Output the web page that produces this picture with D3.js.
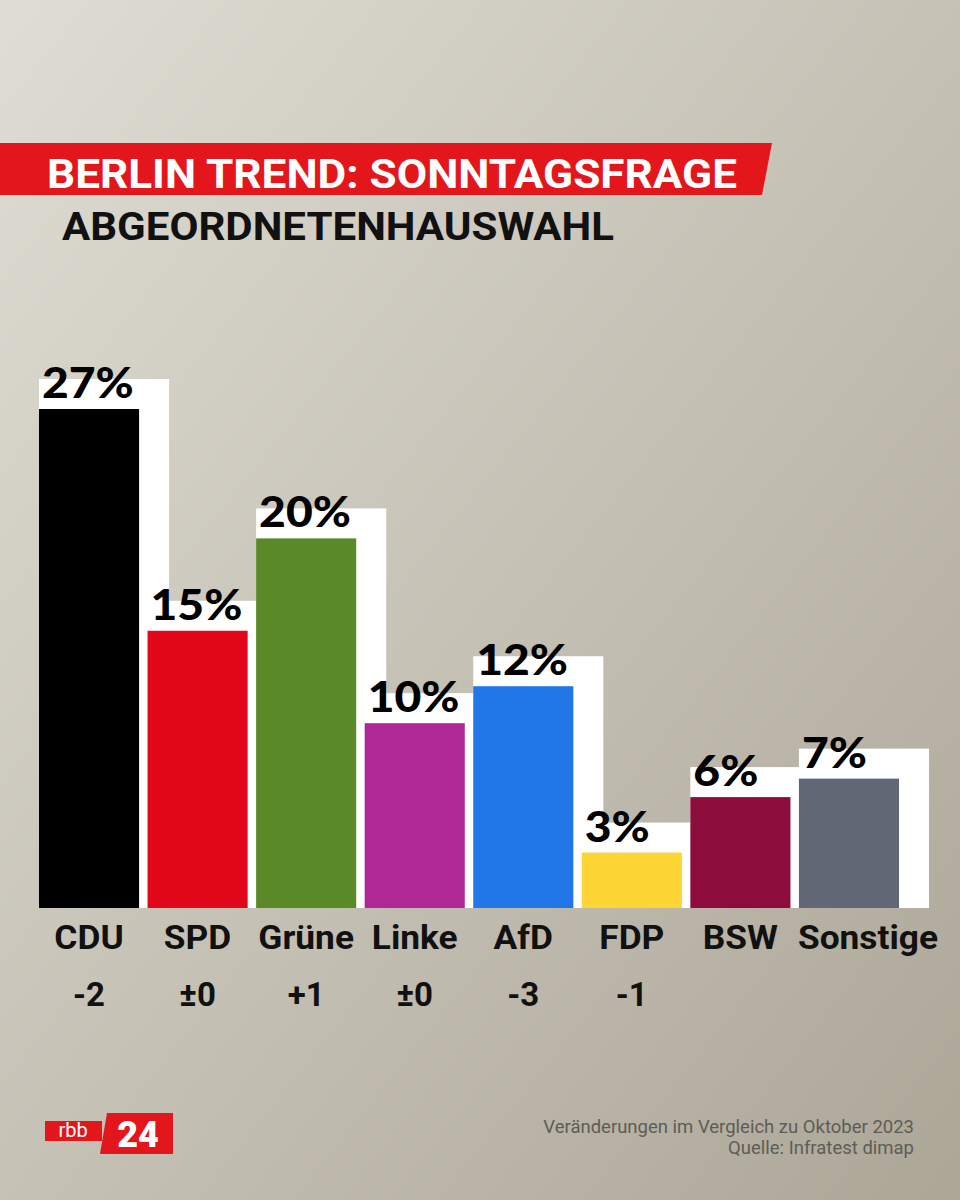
<!DOCTYPE html>
<html>
<head>
<meta charset="utf-8">
<script src="https://cdn.jsdelivr.net/npm/d3@7"></script>
<style>
  html, body { margin: 0; padding: 0; background: #cdc9bd; }
  svg { display: block; }
</style>
</head>
<body>
<script>
// ---- data ----
const categories = ["CDU", "SPD", "Grüne", "Linke", "AfD", "FDP", "BSW", "Sonstige"];
const values = [27, 15, 20, 10, 12, 3, 6, 7];
const changes = ["-2", "±0", "+1", "±0", "-3", "-1", "", ""];
const colors = ["#000000", "#e2081a", "#5a8a28", "#b02896", "#2176e8", "#fdd535", "#8c0d3c", "#616775"];
const title = "BERLIN TREND: SONNTAGSFRAGE";
const subtitle = "ABGEORDNETENHAUSWAHL";
const footLines = ["Veränderungen im Vergleich zu Oktober 2023", "Quelle: Infratest dimap"];

const W = 960, H = 1200;
const svg = d3.select("body").append("svg").attr("width", W).attr("height", H);

// background gradient
const defs = svg.append("defs");
const g = defs.append("linearGradient").attr("id", "bg")
  .attr("x1", "0").attr("y1", "0").attr("x2", "1").attr("y2", "1");
g.append("stop").attr("offset", "0%").attr("stop-color", "#dfddd4");
g.append("stop").attr("offset", "100%").attr("stop-color", "#aca697");
svg.append("rect").attr("width", W).attr("height", H).attr("fill", "url(#bg)");

// title banner
svg.append("polygon")
  .attr("points", "0,143 772,143 762,195 0,195")
  .attr("fill", "#e3161b");
svg.append("text").text(title)
  .attr("x", 47).attr("y", 188)
  .attr("textLength", 690).attr("lengthAdjust", "spacingAndGlyphs")
  .attr("font-family", "Roboto, 'Liberation Sans', sans-serif")
  .attr("font-weight", 700).attr("font-size", 41).attr("fill", "#ffffff");
svg.append("text").text(subtitle)
  .attr("x", 62).attr("y", 240)
  .attr("textLength", 552).attr("lengthAdjust", "spacingAndGlyphs")
  .attr("font-family", "Roboto, 'Liberation Sans', sans-serif")
  .attr("font-weight", 700).attr("font-size", 39).attr("fill", "#111111");

// scales
const x = d3.scaleBand().domain(categories).range([39, 899]).paddingInner(0.078).paddingOuter(0);
const y = d3.scaleLinear().domain([0, 27]).range([908, 409]);
const data = categories.map((c, i) => ({ c, v: values[i], ch: changes[i], col: colors[i] }));
const bw = x.bandwidth();

// stretch helper: widen text horizontally by a factor
function stretch(sel, k) {
  sel.each(function () {
    const len = this.getComputedTextLength();
    if (len > 0) d3.select(this).attr("textLength", len * k).attr("lengthAdjust", "spacingAndGlyphs");
  });
}

// white backing blocks
svg.append("g").selectAll("rect").data(data).join("rect")
  .attr("x", d => x(d.c))
  .attr("y", d => y(d.v) - 30)
  .attr("width", bw + 30)
  .attr("height", d => y(0) - y(d.v) + 30)
  .attr("fill", "#ffffff");

// bars
svg.append("g").selectAll("rect").data(data).join("rect")
  .attr("x", d => x(d.c))
  .attr("y", d => y(d.v))
  .attr("width", bw)
  .attr("height", d => y(0) - y(d.v))
  .attr("fill", d => d.col);

// value labels
const vl = svg.append("g").selectAll("text").data(data).join("text")
  .attr("x", d => x(d.c) + 3)
  .attr("y", d => y(d.v) - 11)
  .text(d => d.v + "%")
  .attr("font-family", "Lato, Inter, sans-serif")
  .attr("font-weight", 900).attr("font-size", 42).attr("fill", "#000");
stretch(vl, 1.1);

// category labels
const cl = svg.append("g").selectAll("text").data(data).join("text")
  .attr("y", 949)
  .text(d => d.c)
  .attr("font-family", "Roboto, 'Liberation Sans', sans-serif")
  .attr("font-weight", 700).attr("font-size", 33).attr("fill", "#111");
stretch(cl, 1.07);
cl.each(function (d) {
  const w = +d3.select(this).attr("textLength");
  if (w > bw) {
    d3.select(this).attr("x", x(d.c) - 1).attr("text-anchor", "start");
  } else {
    d3.select(this).attr("x", x(d.c) + bw / 2).attr("text-anchor", "middle");
  }
});

// change labels
svg.append("g").selectAll("text").data(data).join("text")
  .attr("x", d => x(d.c) + bw / 2)
  .attr("y", 1006)
  .attr("text-anchor", "middle")
  .text(d => d.ch)
  .attr("font-family", "Roboto, 'Liberation Sans', sans-serif")
  .attr("font-weight", 700).attr("font-size", 33).attr("fill", "#111");

// footer
svg.append("g").selectAll("text").data(footLines).join("text")
  .attr("x", 914)
  .attr("y", (d, i) => 1133 + i * 21)
  .attr("text-anchor", "end")
  .text(d => d)
  .attr("font-family", "Roboto, 'Liberation Sans', sans-serif")
  .attr("font-size", 18.5).attr("fill", "#5e5c58");

// logo
const logo = svg.append("g");
logo.append("rect").attr("x", 45).attr("y", 1121).attr("width", 57).attr("height", 20).attr("fill", "#e3161b");
logo.append("text").text("rbb").attr("x", 73).attr("y", 1137).attr("text-anchor", "middle")
  .attr("font-family", "Roboto, sans-serif").attr("font-weight", 400).attr("font-size", 20).attr("fill", "#fff");
logo.append("polygon").attr("points", "107,1113 173,1113 173,1154 100,1154").attr("fill", "#e3161b");
logo.append("text").text("24").attr("x", 138).attr("y", 1147).attr("text-anchor", "middle")
  .attr("font-family", "Roboto, sans-serif").attr("font-weight", 900).attr("font-size", 36).attr("fill", "#fff");
</script>
</body>
</html>
